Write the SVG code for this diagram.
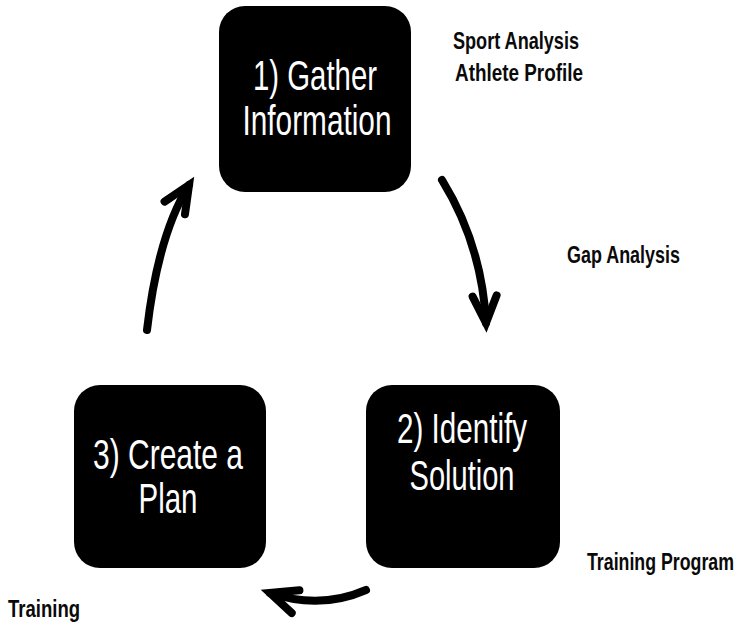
<svg xmlns="http://www.w3.org/2000/svg" width="746" height="626" viewBox="0 0 746 626">
  <style>
    .box { fill: #000000; }
    .step { font-family: "Liberation Sans", Arial, sans-serif; font-size: 43px; fill: #ffffff; text-anchor: middle; }
    .note { font-family: "Liberation Sans", Arial, sans-serif; font-size: 24px; font-weight: bold; fill: #0a0a0a; }
    .arc { fill: none; stroke: #000000; stroke-width: 8; stroke-linecap: round; }
  </style>
  <defs>
    <marker id="chevron" markerUnits="userSpaceOnUse" markerWidth="60" markerHeight="60" viewBox="-40 -30 60 60" refX="0" refY="0" orient="auto" overflow="visible">
      <path d="M-27,-12 L0,0 L-27,12" fill="none" stroke="#000000" stroke-width="8" stroke-linecap="round" stroke-linejoin="miter"/>
    </marker>
  </defs>
  <rect width="746" height="626" fill="#ffffff"/>

  <g id="node-gather">
    <rect class="box" x="219" y="6" width="192" height="186" rx="26" ry="26"/>
    <text class="step" x="315" y="90" textLength="124" lengthAdjust="spacingAndGlyphs">1) Gather</text>
    <text class="step" x="317" y="135" textLength="149" lengthAdjust="spacingAndGlyphs">Information</text>
  </g>

  <g id="node-identify">
    <rect class="box" x="366" y="385" width="194" height="183" rx="26" ry="26"/>
    <text class="step" x="462" y="443" textLength="130" lengthAdjust="spacingAndGlyphs">2) Identify</text>
    <text class="step" x="462" y="490" textLength="105" lengthAdjust="spacingAndGlyphs">Solution</text>
  </g>

  <g id="node-plan">
    <rect class="box" x="74" y="385" width="192" height="183" rx="26" ry="26"/>
    <text class="step" x="168" y="469" textLength="150" lengthAdjust="spacingAndGlyphs">3) Create a</text>
    <text class="step" x="168" y="513" textLength="59" lengthAdjust="spacingAndGlyphs">Plan</text>
  </g>

  <g id="labels">
    <text class="note" x="453" y="49" textLength="126" lengthAdjust="spacingAndGlyphs">Sport Analysis</text>
    <text class="note" x="455" y="81" textLength="128" lengthAdjust="spacingAndGlyphs">Athlete Profile</text>
    <text class="note" x="567" y="263" textLength="113" lengthAdjust="spacingAndGlyphs">Gap Analysis</text>
    <!-- narrowed by a horizontal scale so it sits inside the right edge -->
    <text class="note" transform="translate(587,570) scale(0.74,1)">Training Program</text>
    <text class="note" x="8" y="617" textLength="72" lengthAdjust="spacingAndGlyphs">Training</text>
  </g>

  <g id="connectors">
    <path class="arc" d="M442,180 Q482,245 486,323" marker-end="url(#chevron)"/>
    <path class="arc" d="M366,590 Q320,610 270,593" marker-end="url(#chevron)"/>
    <path class="arc" d="M147,330 Q158,235 189,185" marker-end="url(#chevron)"/>
  </g>
</svg>
